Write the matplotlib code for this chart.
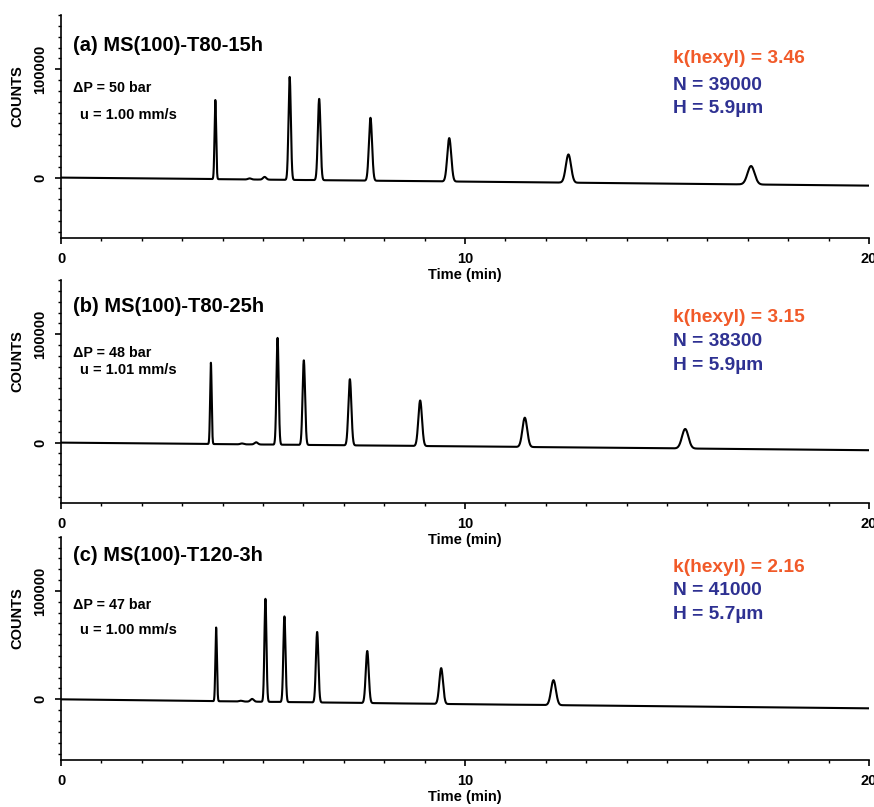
import numpy as np
import matplotlib
matplotlib.use("Agg")
import matplotlib.pyplot as plt
from matplotlib.ticker import MultipleLocator, FixedLocator

plt.rcParams['font.family'] = ['Liberation Sans', 'DejaVu Sans']
plt.rcParams['font.weight'] = 'bold'

# peak tables:
# retention time (min), height above baseline (counts), peak sigma (min)
times_a = [3.82, 4.67, 5.04, 5.66, 6.39, 7.66, 9.61, 12.56, 17.08]
heights_a = [73000, 1000, 2500, 95000, 75000, 58000, 40000, 26000, 17000]
sigmas_a = [0.020, 0.04, 0.04, 0.029, 0.033, 0.039, 0.049, 0.064, 0.087]

times_b = [3.71, 4.48, 4.83, 5.36, 6.01, 7.15, 8.89, 11.48, 15.45]
heights_b = [75000, 800, 2000, 98500, 78000, 61000, 42000, 27000, 18000]
sigmas_b = [0.019, 0.04, 0.04, 0.027, 0.031, 0.037, 0.045, 0.059, 0.079]

times_c = [3.84, 4.45, 4.73, 5.06, 5.53, 6.34, 7.58, 9.41, 12.19]
heights_c = [68000, 700, 2500, 95000, 79000, 65000, 48000, 33000, 23000]
sigmas_c = [0.019, 0.04, 0.04, 0.025, 0.027, 0.031, 0.037, 0.046, 0.060]

# baseline drift (counts) at 0, 10 and 20 min
base_t = [0, 10, 20]
base_a = [0, -3700, -7400]
base_b = [0, -3500, -7000]
base_c = [0, -4500, -8300]

titles = ["(a) MS(100)-T80-15h", "(b) MS(100)-T80-25h", "(c) MS(100)-T120-3h"]
pressures = ["\u0394P = 50 bar", "\u0394P = 48 bar", "\u0394P = 47 bar"]
velocities = ["u = 1.00 mm/s", "u = 1.01 mm/s", "u = 1.00 mm/s"]
k_hexyl = ["k(hexyl) = 3.46", "k(hexyl) = 3.15", "k(hexyl) = 2.16"]
plates = ["N = 39000", "N = 38300", "N = 41000"]
heights_H = ["H = 5.9\u00b5m", "H = 5.9\u00b5m", "H = 5.7\u00b5m"]

panels = [(times_a, heights_a, sigmas_a, base_a),
          (times_b, heights_b, sigmas_b, base_b),
          (times_c, heights_c, sigmas_c, base_c)]

# text baselines in axes fraction: title, dP, u, k, N, H
text_y = [[0.837, 0.655, 0.535, 0.787, 0.665, 0.561],
          [0.855, 0.655, 0.580, 0.814, 0.704, 0.598],
          [0.892, 0.678, 0.564, 0.840, 0.737, 0.632]]

orange = '#F15A29'
blue = '#2E3192'

fig = plt.figure(figsize=(8.74, 8.07), dpi=100)
bottoms = [0.7047, 0.3763, 0.0582]

t = np.linspace(0, 20, 16001)

for i, (times, hts, sigs, base) in enumerate(panels):
    ax = fig.add_axes([0.0698, bottoms[i], 0.9245, 0.2767])
    ax.set_facecolor('none')
    trace = np.interp(t, base_t, base)
    for tr, h, s in zip(times, hts, sigs):
        trace = trace + h * np.exp(-0.5 * ((t - tr) / s) ** 2)
    ax.plot(t, trace, color='black', lw=1.5)

    ax.set_xlim(0, 20)
    ax.set_ylim(-56000, 150000)
    for side in ['top', 'right']:
        ax.spines[side].set_visible(False)
    for side in ['left', 'bottom']:
        ax.spines[side].set_linewidth(1.2)

    ax.xaxis.set_major_locator(FixedLocator([0, 10, 20]))
    ax.xaxis.set_minor_locator(MultipleLocator(1))
    ax.yaxis.set_major_locator(FixedLocator([0, 100000]))
    ax.yaxis.set_minor_locator(MultipleLocator(10000))
    ax.tick_params(which='major', direction='out', length=4, width=1.2,
                   labelsize=10.5, pad=6)
    ax.tick_params(which='minor', direction='out', length=2.2, width=1.0)
    ax.set_xticklabels(['0', '10', '20'], fontweight='bold')
    ax.set_yticklabels(['0', '100000'], fontweight='bold',
                       rotation=90, va='center')

    ax.set_xlabel('Time (min)', fontsize=10.5, fontweight='bold')
    ax.xaxis.label.set_va('center')
    ax.xaxis.set_label_coords(0.5, -0.166)
    ax.set_ylabel('COUNTS', fontsize=10.5, fontweight='bold')
    ax.yaxis.label.set_va('center')
    ax.yaxis.set_label_coords(-0.054, 0.637)

    ty = text_y[i]
    ax.text(0.015, ty[0], titles[i], transform=ax.transAxes,
            fontsize=14.5, fontweight='bold', va='baseline')
    ax.text(0.015, ty[1], pressures[i], transform=ax.transAxes,
            fontsize=10.3, fontweight='bold', va='baseline')
    ax.text(0.0235, ty[2], velocities[i], transform=ax.transAxes,
            fontsize=10.5, fontweight='bold', va='baseline')
    ax.text(0.757, ty[3], k_hexyl[i], transform=ax.transAxes,
            fontsize=13.8, fontweight='bold', va='baseline', color=orange)
    ax.text(0.757, ty[4], plates[i], transform=ax.transAxes,
            fontsize=13.8, fontweight='bold', va='baseline', color=blue)
    ax.text(0.757, ty[5], heights_H[i], transform=ax.transAxes,
            fontsize=13.8, fontweight='bold', va='baseline', color=blue)

fig.savefig('out.png', dpi=100)
